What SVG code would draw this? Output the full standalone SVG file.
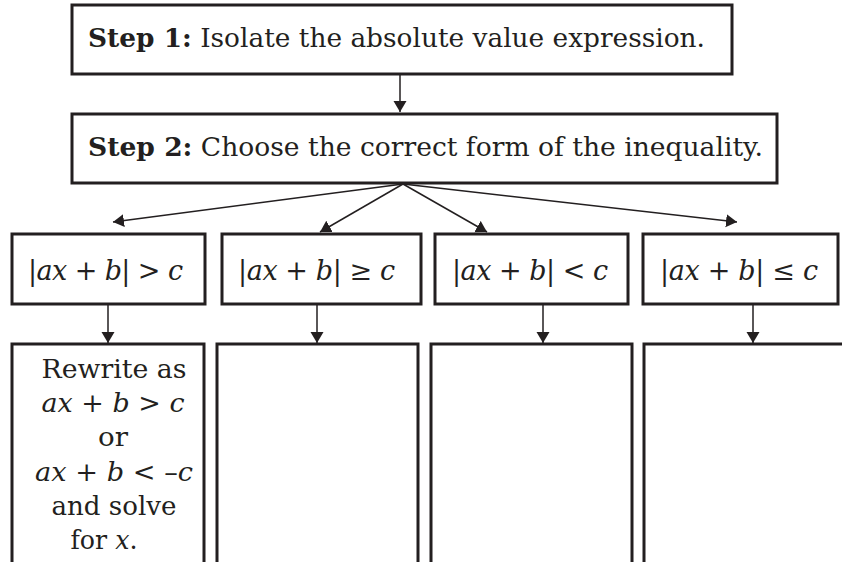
<svg xmlns="http://www.w3.org/2000/svg" width="842" height="562" viewBox="0 0 842 562">
<defs>
<style>
.box{fill:#fff;stroke:#231f20;stroke-width:3}
.con{stroke:#231f20;stroke-width:1.5;fill:none}
.t{font-family:"DejaVu Serif","Liberation Serif",serif;font-size:26px;fill:#231f20}
.m{font-family:"DejaVu Serif","Liberation Serif",serif;font-size:27px;fill:#231f20}
.i{font-style:italic}
.b{font-weight:bold}
</style>
<marker id="ah" markerUnits="userSpaceOnUse" markerWidth="12" markerHeight="14" refX="11" refY="6.5" orient="auto">
<path d="M0,0 L11,6.5 L0,13 z" fill="#231f20"/>
</marker>
</defs>
<rect x="0" y="0" width="842" height="562" fill="#fff"/>
<g id="connectors">
<line class="con" x1="400" y1="74" x2="400" y2="112" marker-end="url(#ah)"/>
<line class="con" x1="403" y1="184" x2="113" y2="222" marker-end="url(#ah)"/>
<line class="con" x1="403" y1="184" x2="320" y2="232" marker-end="url(#ah)"/>
<line class="con" x1="403" y1="184" x2="487" y2="232" marker-end="url(#ah)"/>
<line class="con" x1="403" y1="184" x2="737" y2="222" marker-end="url(#ah)"/>
<line class="con" x1="108" y1="304" x2="108" y2="343" marker-end="url(#ah)"/>
<line class="con" x1="317" y1="304" x2="317" y2="343" marker-end="url(#ah)"/>
<line class="con" x1="543" y1="304" x2="543" y2="343" marker-end="url(#ah)"/>
<line class="con" x1="753" y1="304" x2="753" y2="343" marker-end="url(#ah)"/>
</g>
<g id="step1">
<rect class="box" x="72" y="5" width="660" height="69"/>
<text class="t" x="88" y="47" textLength="617" lengthAdjust="spacingAndGlyphs"><tspan class="b">Step 1:</tspan> Isolate the absolute value expression.</text>
</g>
<g id="step2">
<rect class="box" x="72" y="114" width="705" height="69"/>
<text class="t" x="88" y="156" textLength="675" lengthAdjust="spacingAndGlyphs"><tspan class="b">Step 2:</tspan> Choose the correct form of the inequality.</text>
</g>
<g id="ineq1">
<rect class="box" x="12" y="234" width="193" height="70"/>
<text class="m" x="28" y="280" textLength="155" lengthAdjust="spacing">|<tspan class="i">ax</tspan> + <tspan class="i">b</tspan>| &gt; <tspan class="i">c</tspan></text>
</g>
<g id="ineq2">
<rect class="box" x="222" y="234" width="199" height="70"/>
<text class="m" x="238" y="280" textLength="157" lengthAdjust="spacing">|<tspan class="i">ax</tspan> + <tspan class="i">b</tspan>| ≥ <tspan class="i">c</tspan></text>
</g>
<g id="ineq3">
<rect class="box" x="435" y="234" width="193" height="70"/>
<text class="m" x="452" y="280" textLength="156" lengthAdjust="spacing">|<tspan class="i">ax</tspan> + <tspan class="i">b</tspan>| &lt; <tspan class="i">c</tspan></text>
</g>
<g id="ineq4">
<rect class="box" x="643" y="234" width="195" height="70"/>
<text class="m" x="660" y="280" textLength="158" lengthAdjust="spacing">|<tspan class="i">ax</tspan> + <tspan class="i">b</tspan>| ≤ <tspan class="i">c</tspan></text>
</g>
<g id="result1">
<rect class="box" x="12" y="344" width="192" height="240"/>
<g class="t" text-anchor="middle">
<text x="114" y="378" textLength="145" lengthAdjust="spacingAndGlyphs">Rewrite as</text>
<text x="113" y="412" textLength="143" lengthAdjust="spacingAndGlyphs"><tspan class="i">ax</tspan> + <tspan class="i">b</tspan> &gt; <tspan class="i">c</tspan></text>
<text x="113" y="446" textLength="30" lengthAdjust="spacingAndGlyphs">or</text>
<text x="114" y="481" textLength="158" lengthAdjust="spacingAndGlyphs"><tspan class="i">ax</tspan> + <tspan class="i">b</tspan> &lt; –<tspan class="i">c</tspan></text>
<text x="114" y="515" textLength="125" lengthAdjust="spacingAndGlyphs">and solve</text>
<text x="104" y="549" textLength="67" lengthAdjust="spacingAndGlyphs">for <tspan class="i">x</tspan>.</text>
</g>
</g>
<g id="result2">
<rect class="box" x="217" y="344" width="201" height="240"/>
</g>
<g id="result3">
<rect class="box" x="431" y="344" width="201" height="240"/>
</g>
<g id="result4">
<rect class="box" x="644" y="344" width="220" height="240"/>
</g>
</svg>
